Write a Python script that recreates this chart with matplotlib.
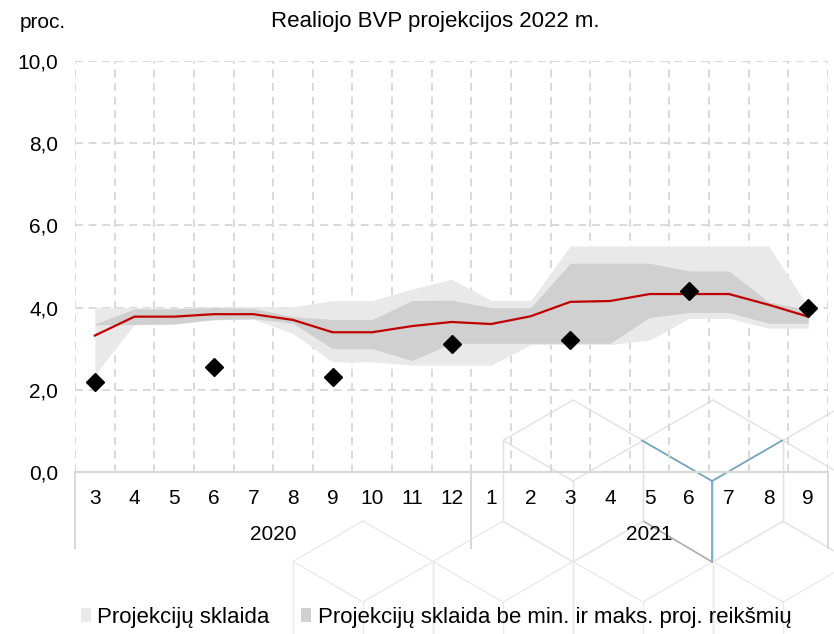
"""
Realiojo BVP projekcijos 2022 m.
"""

import numpy as np
import matplotlib.pyplot as plt
from matplotlib.lines import Line2D
from matplotlib.patches import Patch

plt.rcParams['font.family'] = ['Liberation Sans', 'DejaVu Sans']

# categories
months = ['3', '4', '5', '6', '7', '8', '9', '10', '11', '12',
          '1', '2', '3', '4', '5', '6', '7', '8', '9']
years = ['2020', '2021']
year_first = [0, 10]
year_last = [9, 18]

# series (proc.)
median = [3.32, 3.78, 3.78, 3.84, 3.84, 3.70, 3.40, 3.40, 3.55, 3.65,
          3.60, 3.79, 4.14, 4.16, 4.33, 4.33, 4.33, 4.07, 3.78]
range_lo = [2.36, 3.59, 3.60, 3.70, 3.72, 3.37, 2.68, 2.68, 2.60, 2.60,
            2.60, 3.10, 3.10, 3.10, 3.21, 3.74, 3.74, 3.50, 3.50]
range_hi = [4.00, 4.00, 4.00, 4.02, 4.02, 4.02, 4.17, 4.17, 4.45, 4.69,
            4.18, 4.17, 5.50, 5.50, 5.50, 5.50, 5.50, 5.50, 4.02]
trim_lo = [3.58, 3.59, 3.60, 3.71, 3.73, 3.62, 3.00, 3.00, 2.71, 3.13,
           3.13, 3.13, 3.13, 3.13, 3.76, 3.88, 3.88, 3.62, 3.62]
trim_hi = [3.60, 3.97, 3.97, 4.00, 3.98, 3.78, 3.71, 3.71, 4.17, 4.18,
           4.00, 4.00, 5.08, 5.08, 5.08, 4.89, 4.89, 4.14, 3.95]
actual_idx = [0, 3, 6, 9, 12, 15, 18]
actual = [2.2, 2.56, 2.3, 3.12, 3.2, 4.4, 4.0]

LIGHT = '#e9e9e9'
DARK = '#d0d0d0'
RED = '#c00000'
GRID = '#d9d9d9'

W, H = 834, 634


def px(x, y):
    return x / W, 1 - y / H


def hex_lines(cx, cy, s=81.0, w=140.0):
    top = (cx, cy - s)
    ur = (cx + w / 2, cy - s / 2)
    lr = (cx + w / 2, cy + s / 2)
    bot = (cx, cy + s)
    ll = (cx - w / 2, cy + s / 2)
    ul = (cx - w / 2, cy - s / 2)
    c = (cx, cy)
    ring = [top, ur, lr, bot, ll, ul, top]
    edges = [(ring[i], ring[i + 1]) for i in range(6)]
    cube = [(ul, c), (ur, c), (c, bot)]
    return edges, cube


fig = plt.figure(figsize=(W / 100, H / 100), dpi=100)

# faint cube watermark behind the chart
for row, (cy, ks) in enumerate([(481, range(0, 3)), (602, range(-1, 3))]):
    for k in ks:
        cx = 573 + 140 * k - 70 * row
        edges, cube = hex_lines(cx, cy)
        col = '#e2e2e2' if row == 0 else '#eaeaea'
        for a, b in edges + cube:
            (x0, y0), (x1, y1) = px(*a), px(*b)
            fig.add_artist(Line2D([x0, x1], [y0, y1], color=col, lw=1.0, zorder=-5))
edges, cube = hex_lines(712, 481)
for a, b in cube:
    (x0, y0), (x1, y1) = px(*a), px(*b)
    fig.add_artist(Line2D([x0, x1], [y0, y1], color='#6fa3bb', lw=1.2, zorder=-4))
(x0, y0), (x1, y1) = px(644, 521.5), px(712, 562)
fig.add_artist(Line2D([x0, x1], [y0, y1], color='#a8a8a8', lw=1.0, zorder=-4))

ax = fig.add_axes([75 / W, 162 / H, 753 / W, 411 / H])
ax.patch.set_alpha(0)

x = np.arange(len(months))
ax.fill_between(x, range_lo, range_hi, color=LIGHT, lw=0, zorder=1)
ax.fill_between(x, trim_lo, trim_hi, color=DARK, lw=0, zorder=2)
ax.plot(x, median, color=RED, lw=1.6, zorder=3)
ax.plot(actual_idx, actual, ls='none', marker='D', ms=9, color='black', zorder=4)

ax.set_xlim(-0.5, len(months) - 0.5)
ax.set_ylim(0, 10)
ax.set_yticks(np.arange(0, 10.1, 2))
ax.set_yticklabels([f'{v:.1f}'.replace('.', ',') for v in np.arange(0, 10.1, 2)])
ax.set_xticks(x, months)
ax.set_xticks(np.arange(-0.5, len(months)), minor=True)

ax.set_axisbelow(True)
ax.grid(axis='y', which='major', color=GRID, lw=1.4, ls=(0, (4, 3)))
ax.grid(axis='x', which='minor', color=GRID, lw=1.4, ls=(0, (4, 3)))
ax.tick_params(axis='both', which='both', length=0, labelsize=15)
ax.tick_params(axis='x', pad=12)
ax.tick_params(axis='y', pad=12)

for s in ['top', 'left', 'right']:
    ax.spines[s].set_visible(False)
ax.spines['bottom'].set_color(GRID)
ax.spines['bottom'].set_linewidth(1.6)

# year separators and labels under the month axis
tr = ax.get_xaxis_transform()
for b in [-0.5, 9.5, len(months) - 0.5]:
    ax.plot([b, b], [0, -0.185], color=GRID, lw=1.4, transform=tr, clip_on=False)
for yr, a, b in zip(years, year_first, year_last):
    ax.text((a + b) / 2, -0.153, yr, transform=tr, ha='center', va='center', fontsize=15)

fig.text(*px(435, 22), 'Realiojo BVP projekcijos 2022 m.', ha='center', va='center', fontsize=16)
fig.text(*px(20, 22), 'proc.', ha='left', va='center', fontsize=15)

handles = [Patch(facecolor=LIGHT, edgecolor='none'), Patch(facecolor=DARK, edgecolor='none')]
fig.legend(handles, ['Projekcijų sklaida', 'Projekcijų sklaida be min. ir maks. proj. reikšmių'],
           loc='center', bbox_to_anchor=px(436, 617), ncol=2, frameon=False, fontsize=16,
           handlelength=0.45, handleheight=0.6, handletextpad=0.3, columnspacing=1.4)

fig.savefig('out.png', dpi=100)
